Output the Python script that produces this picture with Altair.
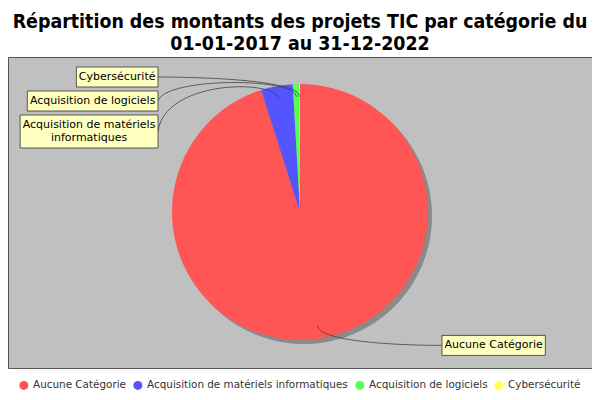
import math
import altair as alt
import pandas as pd

# ---------------- data ----------------
categories = [
    "Aucune Catégorie",
    "Acquisition de matériels informatiques",
    "Acquisition de logiciels",
    "Cybersécurité",
]
values = [95.1, 4.0, 0.8, 0.1]
colors = ["#FF5555", "#5555FF", "#55FF55", "#FFFF55"]
label_lines = [
    ["Aucune Catégorie"],
    ["Acquisition de matériels", "informatiques"],
    ["Acquisition de logiciels"],
    ["Cybersécurité"],
]
title_lines = [
    "Répartition des montants des projets TIC par catégorie du",
    "01-01-2017 au 31-12-2022",
]

# ---------------- layout / style ----------------
W, H = 584, 311          # plot area
CX, CY = 292, 155        # pie centre inside the plot area
R = 128                  # pie radius
R_LINK = 135             # link-area radius (elbow)
LINK_PCT = 0.9           # where the link enters the slice
LABEL_X = 142            # distance of label column from centre
GAP = 4                  # vertical gap between label boxes
FONT = "DejaVu Sans"
FS = 11
LH = 13
LEG_FS = 10.4
LEG_SYM = 9
LEG_OFF = 4
LEG_PAD = 6

# approximate DejaVu Sans advance widths (units per em = 2048)
ADV = {" ": 651, "A": 1401, "C": 1430, "a": 1255, "b": 1300, "c": 1126,
       "d": 1300, "e": 1260, "é": 1260, "f": 721, "g": 1300, "i": 569,
       "l": 569, "m": 1995, "n": 1298, "o": 1253, "p": 1300, "q": 1300,
       "r": 842, "s": 1067, "t": 803, "u": 1298, "y": 1212}


def text_w(s, fs=FS):
    return sum(ADV.get(ch, 1200) for ch in s) * fs / 2048


pie_df = pd.DataFrame({"category": categories, "value": values,
                       "idx": list(range(len(categories)))})

# ---------------- label geometry derived from the values ----------------
total = sum(values)
acc = 0.0
labels = []
for i, (cat, v, lines) in enumerate(zip(categories, values, label_lines)):
    a0 = acc / total * 2 * math.pi
    acc += v
    a1 = acc / total * 2 * math.pi
    mid = (a0 + a1) / 2
    s, c = math.sin(mid), math.cos(mid)
    left = s < 0
    bw = max(text_w(l) for l in lines) + 5
    bh = len(lines) * LH + 7
    labels.append(dict(
        cat=cat, lines=lines, left=left, bw=bw, bh=bh,
        lx=CX + R * LINK_PCT * s, ly=CY - R * LINK_PCT * c,
        ex=CX + R_LINK * s, ey=CY - R_LINK * c,
    ))

for side in (True, False):
    items = sorted([l for l in labels if l["left"] == side], key=lambda l: l["ey"])
    prev_bottom = -1e9
    for l in items:
        top = max(l["ey"] - l["bh"] / 2, prev_bottom + GAP)
        l["top"] = top
        l["ty"] = top + l["bh"] / 2
        prev_bottom = top + l["bh"]

box_rows, text_rows, link_rows = [], [], []
for l in labels:
    if l["left"]:
        x2 = CX - LABEL_X
        x1 = x2 - l["bw"]
        ax = CX - R_LINK
        tx = x2
    else:
        x1 = CX + LABEL_X
        x2 = x1 + l["bw"]
        ax = CX + R_LINK
        tx = x1
    box_rows.append(dict(cat=l["cat"], x=x1, x2=x2, y=l["top"], y2=l["top"] + l["bh"]))
    n = len(l["lines"])
    for j, line in enumerate(l["lines"]):
        text_rows.append(dict(text=line, x=(x1 + x2) / 2,
                              y=l["ty"] + (j - (n - 1) / 2) * LH))
    p = [(l["lx"], l["ly"]), (l["ex"], l["ey"]), (ax, l["ey"]), (tx, l["ty"])]
    steps = 40
    for k in range(steps + 1):
        t = k / steps
        b = [(1 - t) ** 3, 3 * (1 - t) ** 2 * t, 3 * (1 - t) * t ** 2, t ** 3]
        link_rows.append(dict(cat=l["cat"], k=k,
                              x=sum(b[m] * p[m][0] for m in range(4)),
                              y=sum(b[m] * p[m][1] for m in range(4))))

box_df = pd.DataFrame(box_rows)
text_df = pd.DataFrame(text_rows)
link_df = pd.DataFrame(link_rows)

# centred legend position (estimated legend width)
leg_w = (sum(text_w(c, LEG_FS) for c in categories) * 1.015
         + len(categories) * (LEG_SYM + LEG_OFF) + (len(categories) - 1) * LEG_PAD)
leg_x = (W - leg_w) / 2

# ---------------- chart ----------------
theta = alt.Theta("value:Q", stack=True)
order = alt.Order("idx:Q")

shadow = alt.Chart(pie_df).mark_arc(radius=R, color="#8a8a8a").encode(
    theta=theta, order=order, x=alt.value(CX + 4), y=alt.value(CY + 4)
)

pie = alt.Chart(pie_df).mark_arc(radius=R).encode(
    theta=theta,
    order=order,
    x=alt.value(CX),
    y=alt.value(CY),
    color=alt.Color(
        "category:N",
        scale=alt.Scale(domain=categories, range=colors),
        sort=categories,
        legend=alt.Legend(
            orient="none", legendX=leg_x, legendY=323,
            direction="horizontal", title=None,
            symbolType="circle", symbolSize=LEG_SYM ** 2, symbolStrokeWidth=0,
            labelFont=FONT, labelFontSize=LEG_FS, labelColor="#333333",
            labelOffset=LEG_OFF, columnPadding=LEG_PAD, padding=0, labelLimit=400,
        ),
    ),
)

links = alt.Chart(link_df).mark_line(color="#404040", strokeWidth=0.8).encode(
    x=alt.X("x:Q", scale=None, axis=None),
    y=alt.Y("y:Q", scale=None, axis=None),
    detail="cat:N",
    order="k:Q",
)

boxes = alt.Chart(box_df).mark_rect(fill="#FFFFC0", stroke="#333333", strokeWidth=0.8).encode(
    x=alt.X("x:Q", scale=None, axis=None),
    x2="x2:Q",
    y=alt.Y("y:Q", scale=None, axis=None),
    y2="y2:Q",
)

texts = alt.Chart(text_df).mark_text(
    font=FONT, fontSize=FS, align="center", baseline="middle", color="black"
).encode(
    x=alt.X("x:Q", scale=None, axis=None),
    y=alt.Y("y:Q", scale=None, axis=None),
    text="text:N",
)

chart = alt.layer(shadow, pie, links, boxes, texts).properties(
    width=W,
    height=H,
    padding={"top": 3, "left": 0, "right": 0, "bottom": 0},
    title=alt.TitleParams(
        text=title_lines, font="DejaVu Sans Condensed", fontSize=19.4,
        fontWeight="bold", color="black", anchor="middle", lineHeight=22,
        offset=3, frame="group",
    ),
).configure_view(fill="#C0C0C0", stroke="#555555", strokeWidth=1)

chart.save("out.html", embed_options={"renderer": "svg", "actions": False})
